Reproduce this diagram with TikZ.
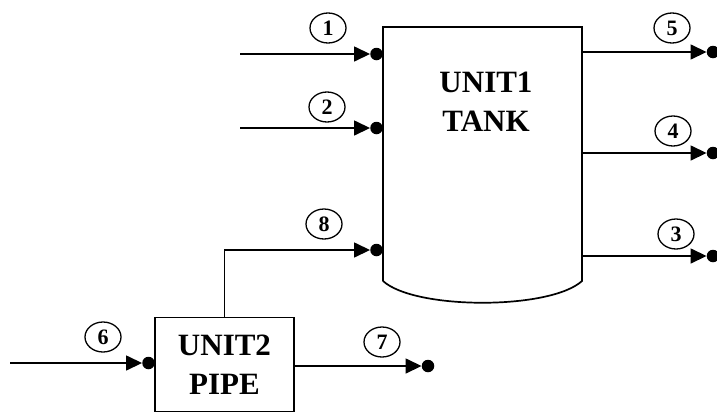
\documentclass[tikz,border=0pt]{standalone}
\usepackage{fontspec}
\setmainfont{Liberation Serif}
\usetikzlibrary{arrows.meta}
\usetikzlibrary{shapes.geometric}

\tikzset{
  flow/.style={line width=1.5pt, -{Triangle[length=16pt,width=15pt]}},
  port/.style={circle, fill, inner sep=0pt, minimum size=12.5pt},
  tag/.style={ellipse, draw, line width=1.3pt, minimum width=36pt, minimum height=30pt,
    inner sep=0pt, font=\bfseries\fontsize{22}{22}\selectfont},
  unit/.style={align=center, font=\bfseries\fontsize{31}{39}\selectfont}
}

\begin{document}
\begin{tikzpicture}[x=1pt,y=-1pt]
    \useasboundingbox (0,0) rectangle (717,413);

    % Tank (unit 1)
    \draw[line width=1.7pt] (383,281) -- (383,27) -- (582,27) -- (582,281)
        .. controls (550,310) and (415,310) .. (383,281);
    \node[unit] (tank) at (486,102) {UNIT1\\TANK};

    % Pipe (unit 2)
    \node[draw, line width=1.6pt, minimum width=139pt, minimum height=94pt, unit]
        (pipe) at (224.5,364.5) {UNIT2\\PIPE};

    % Tank feeds
    \foreach \n/\y in {1/54, 2/128} {
        \coordinate (s\n) at (240,\y);
        \node[port] (p\n) at (376.5,\y) {};
        \draw[flow] (s\n) -- (p\n);
    }
    \node[port] (p8) at (376.5,250) {};
    \draw[flow] (pipe.north) |- (p8);

    % Tank products
    \foreach \n/\y in {5/52, 4/153, 3/256} {
        \coordinate (t\n) at (582,\y);
        \node[port] (p\n) at (713,\y) {};
        \draw[flow] (t\n) -- (p\n);
    }

    % Pipe feed and product
    \coordinate (s6) at (10,363);
    \node[port] (p6) at (148.5,363) {};
    \draw[flow] (s6) -- (p6);
    \node[port] (p7) at (428,366) {};
    \draw[flow] (pipe.east |- p7) -- (p7);

    % Stream numbers
    \foreach \n/\x/\y in {1/328/28, 2/327/107, 8/324/224, 5/672/28, 4/673/131,
                          3/676/234, 6/103/337, 7/382/342} {
        \node[tag] (n\n) at (\x,\y) {\n};
    }
\end{tikzpicture}
\end{document}
